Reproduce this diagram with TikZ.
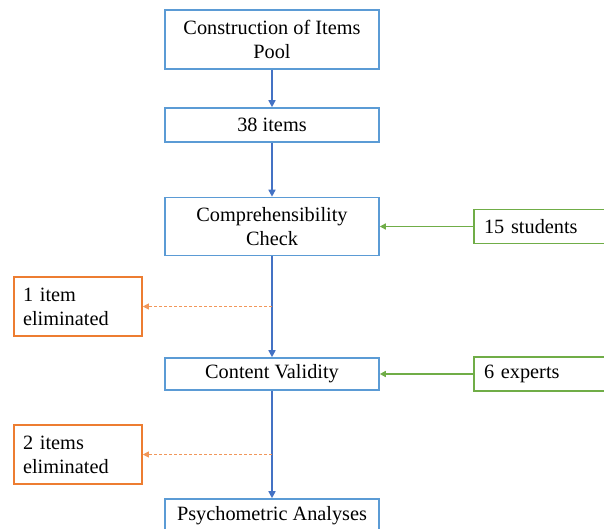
\documentclass[tikz,border=0pt]{standalone}
\usepackage{fontspec}
\setmainfont{Liberation Serif}
\usetikzlibrary{arrows.meta}
\definecolor{boxblue}{HTML}{5B9BD5}
\definecolor{lineblue}{HTML}{4472C4}
\definecolor{sourcegreen}{HTML}{70AD47}
\definecolor{elimorange}{HTML}{ED7D31}

\begin{document}
\begin{tikzpicture}
[x=1pt, y=-1pt, font=\fontsize{20.3}{24}\selectfont, line width=1.6pt,
step0/.style={rectangle, draw=boxblue, fill=white, inner sep=0pt, minimum width=214pt, align=center},
source0/.style={rectangle, draw=sourcegreen, fill=white, inner sep=0pt, minimum width=136pt, minimum height=34pt, text width=116pt, align=left},
elim0/.style={rectangle, draw=elimorange, fill=white, inner sep=0pt, minimum width=128pt, minimum height=59pt, text width=110pt, align=left},
flow/.style={draw=lineblue, -{Triangle[length=7pt,width=7pt]}},
feed/.style={draw=sourcegreen, -{Triangle[length=6pt,width=6pt]}},
drop/.style={draw=elimorange!80, line width=0.8pt, densely dashed, -{Triangle[length=6pt,width=6pt]}}]

\clip (0,0) rectangle (604,529);

\node[step0, minimum height=59pt] (pool) at (272,39.5) {Construction of Items\\Pool};
\node[step0, minimum height=34pt] (items) at (272,125) {38 items};
\node[step0, minimum height=58pt] (check) at (272,226.5) {Comprehensibility\\Check};
\node[step0, minimum height=32pt] (validity) at (272,374) {Content Validity};
\node[step0, minimum height=34pt] (analyses) at (272,516) {Psychometric Analyses};

\node[source0] (students) at (542,226.5) {15 students};
\node[source0] (experts) at (542,374) {6 experts};

\node[elim0] (elim1) at (78,306.5) {1 item\\eliminated};
\node[elim0] (elim2) at (78,454.5) {2 items\\eliminated};

\draw[flow] (pool) -- (items);
\draw[flow] (items) -- (check);
\draw[flow] (check) -- (validity);
\draw[flow] (validity) -- (analyses);

\draw[feed] (students) -- (check);
\draw[feed] (experts) -- (validity);

\draw[drop] (check.south |- elim1.east) -- (elim1);
\draw[drop] (validity.south |- elim2.east) -- (elim2);
\end{tikzpicture}
\end{document}
